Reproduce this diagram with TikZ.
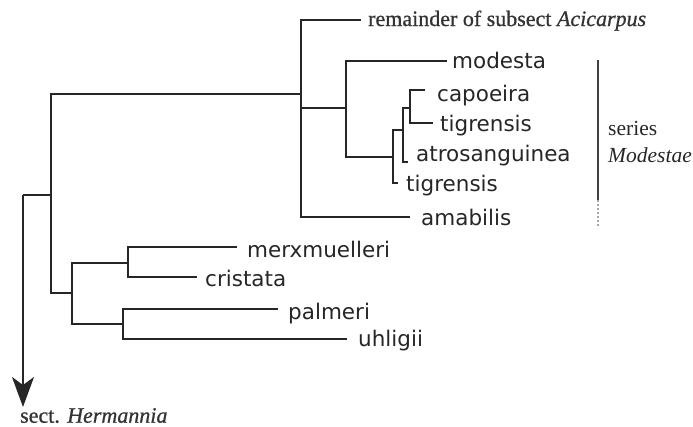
\documentclass[tikz,border=0pt]{standalone}
\usepackage{fontspec}
\setmainfont{Liberation Serif}
\newfontfamily\leaffont{DejaVu Sans}
\newfontfamily\heavyserif[FakeBold=0.8,ItalicFeatures={FakeBold=0.8}]{Liberation Serif}
\usetikzlibrary{arrows.meta}
\begin{document}
\begin{tikzpicture}[x=1pt,y=-1pt,
  branch/.style={line width=1.7pt, draw=black!85, line join=miter},
  leaf/.style={anchor=base west, inner sep=0pt, font=\leaffont\fontsize{21.5}{24}\selectfont, text=black!85},
  lab/.style={anchor=base west, inner sep=0pt, font=\fontsize{21.5}{24}\selectfont, text=black!85},
  heavylab/.style={anchor=base west, inner sep=0pt, font=\heavyserif\fontsize{22}{24}\selectfont, text=black!80},
  bar/.style={line width=2pt, draw=black!75},
  barend/.style={line width=2pt, draw=black!35, dash pattern=on 2pt off 2pt}]
\useasboundingbox (0,0) rectangle (693,426);
% internal nodes
\coordinate (R) at (23,195);
\coordinate (F) at (51,195);
\coordinate (E) at (301,94);
\coordinate (D) at (346,108);
\coordinate (C) at (392.7,157);
\coordinate (A) at (403,130);
\coordinate (B) at (410,107.7);
\coordinate (G) at (72,293);
\coordinate (H) at (128,263);
\coordinate (I) at (123,324);
\coordinate (tip) at (23,407);
% leaf ends
\coordinate (remT) at (361,20);
\coordinate (modT) at (447,61);
\coordinate (capT) at (425,90);
\coordinate (tigAT) at (433,122.7);
\coordinate (atrT) at (408,162);
\coordinate (tigBT) at (398,183.3);
\coordinate (amaT) at (410,217);
\coordinate (merT) at (237,247);
\coordinate (criT) at (197,277);
\coordinate (palT) at (278,309);
\coordinate (uhlT) at (347,339);
% labels
\node[heavylab] (rem) at (368,26) {remainder of subsect \textit{Acicarpus}};
\node[leaf] (mod) at (452,68) {modesta};
\node[leaf] (cap) at (437,101.7) {capoeira};
\node[leaf] (tigA) at (440,131.7) {tigrensis};
\node[leaf] (atr) at (416,161.7) {atrosanguinea};
\node[leaf] (tigB) at (406,191.7) {tigrensis};
\node[leaf] (ama) at (421,225) {amabilis};
\node[leaf] (mer) at (247,257.3) {merxmuelleri};
\node[leaf] (cri) at (205,286) {cristata};
\node[leaf] (pal) at (288,319.3) {palmeri};
\node[leaf] (uhl) at (358,346.7) {uhligii};
\node[lab] (ser) at (608,135) {series};
\node[lab] (modst) at (608,162) {\textit{Modestae}};
\node[heavylab] (herm) at (20,422.7) {sect. \textit{Hermannia}};
% branches
\draw[branch] (R) -- (F);
\draw[branch] (F) |- (E);
\draw[branch] (F) |- (G);
\draw[branch] (E) |- (remT);
\draw[branch] (E) |- (D);
\draw[branch] (E) |- (amaT);
\draw[branch] (D) |- (modT);
\draw[branch] (D) |- (C);
\draw[branch] (C) |- (A);
\draw[branch] (C) |- (tigBT);
\draw[branch] (A) |- (B);
\draw[branch] (A) |- (atrT);
\draw[branch] (B) |- (capT);
\draw[branch] (B) |- (tigAT);
\draw[branch] (G) |- (H);
\draw[branch] (G) |- (I);
\draw[branch] (H) |- (merT);
\draw[branch] (H) |- (criT);
\draw[branch] (I) |- (palT);
\draw[branch] (I) |- (uhlT);
\draw[branch, -{Stealth[length=30pt,width=22pt,inset=8pt]}] (R) -- (tip);
% series bar
\coordinate (b1) at (598,60);
\coordinate (b2) at (598,200);
\coordinate (b3) at (598,228);
\draw[bar] (b1) -- (b2);
\draw[barend] (b2) -- (b3);
\end{tikzpicture}
\end{document}
